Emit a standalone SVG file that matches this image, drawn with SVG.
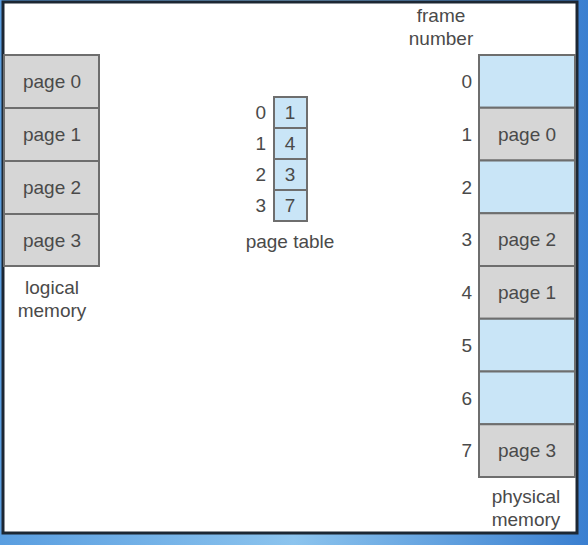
<svg xmlns="http://www.w3.org/2000/svg" width="588" height="545" viewBox="0 0 588 545">
<defs>
<linearGradient id="bg" x1="0" y1="0" x2="1" y2="0">
<stop offset="0" stop-color="#5a9ee0"/>
<stop offset="0.5" stop-color="#8cc4ee"/>
<stop offset="1" stop-color="#3a7fd0"/>
</linearGradient>
<style>
.t{font-family:"Liberation Sans",Arial,sans-serif;font-size:19px;fill:#4a4a4a}
.m{text-anchor:middle}
.e{text-anchor:end}
.g{fill:#d6d6d6;stroke:#6e6e6e;stroke-width:2}
.b{fill:#c9e5f7;stroke:#6e6e6e;stroke-width:2}
</style>
</defs>
<rect x="0" y="0" width="588" height="545" fill="url(#bg)"/>
<rect x="3" y="2" width="574" height="531" fill="#ffffff" stroke="#1c2733" stroke-width="3"/>
<g id="logical-memory">
<rect class="g" x="4" y="55" width="95" height="53"/>
<rect class="g" x="4" y="108" width="95" height="53"/>
<rect class="g" x="4" y="161" width="95" height="53"/>
<rect class="g" x="4" y="214" width="95" height="52"/>
<text class="t m" x="52" y="88">page 0</text>
<text class="t m" x="52" y="141">page 1</text>
<text class="t m" x="52" y="194">page 2</text>
<text class="t m" x="52" y="247">page 3</text>
<text class="t m" x="52" y="294">logical</text>
<text class="t m" x="52" y="317">memory</text>
</g>
<g id="page-table">
<rect class="b" x="274" y="97" width="33" height="31"/>
<rect class="b" x="274" y="128" width="33" height="31"/>
<rect class="b" x="274" y="159" width="33" height="31"/>
<rect class="b" x="274" y="190" width="33" height="31"/>
<text class="t m" x="290" y="119">1</text>
<text class="t m" x="290" y="150">4</text>
<text class="t m" x="290" y="181">3</text>
<text class="t m" x="290" y="212">7</text>
<text class="t e" x="266" y="119">0</text>
<text class="t e" x="266" y="150">1</text>
<text class="t e" x="266" y="181">2</text>
<text class="t e" x="266" y="212">3</text>
<text class="t m" x="290" y="248">page table</text>
</g>
<g id="physical-memory">
<rect class="b" x="479" y="55" width="96" height="52.75"/>
<rect class="g" x="479" y="107.75" width="96" height="52.75"/>
<rect class="b" x="479" y="160.5" width="96" height="52.75"/>
<rect class="g" x="479" y="213.25" width="96" height="52.75"/>
<rect class="g" x="479" y="266" width="96" height="52.75"/>
<rect class="b" x="479" y="318.75" width="96" height="52.75"/>
<rect class="b" x="479" y="371.5" width="96" height="52.75"/>
<rect class="g" x="479" y="424.25" width="96" height="52.75"/>
<text class="t m" x="527" y="141">page 0</text>
<text class="t m" x="527" y="246">page 2</text>
<text class="t m" x="527" y="299">page 1</text>
<text class="t m" x="527" y="457">page 3</text>
<text class="t e" x="472" y="88">0</text>
<text class="t e" x="472" y="141">1</text>
<text class="t e" x="472" y="194">2</text>
<text class="t e" x="472" y="246">3</text>
<text class="t e" x="472" y="299">4</text>
<text class="t e" x="472" y="352">5</text>
<text class="t e" x="472" y="405">6</text>
<text class="t e" x="472" y="457">7</text>
<text class="t m" x="441" y="22">frame</text>
<text class="t m" x="441" y="45">number</text>
<text class="t m" x="526" y="503">physical</text>
<text class="t m" x="526" y="526">memory</text>
</g>
<g id="connectors"></g>
</svg>
